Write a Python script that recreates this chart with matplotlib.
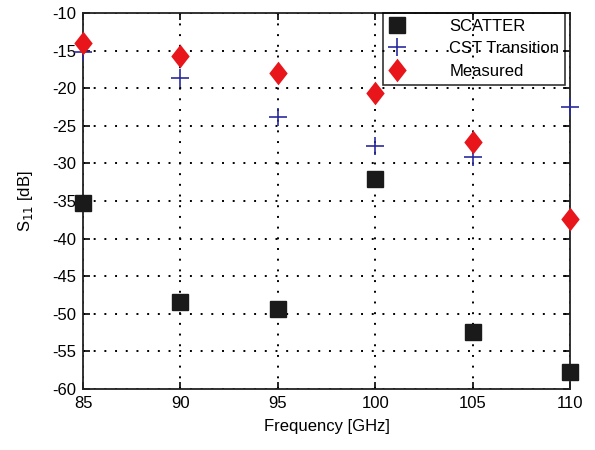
import matplotlib
matplotlib.use("Agg")
import matplotlib.pyplot as plt
from matplotlib.path import Path

plt.rcParams['font.family'] = ['Liberation Sans', 'DejaVu Sans']
plt.rcParams['axes.unicode_minus'] = False

# frequency points (GHz)
freq = [85, 90, 95, 100, 105, 110]
# S11 values in dB
s11_scatter = [-35.3, -48.4, -49.4, -32.1, -52.4, -57.7]
s11_cst = [-15.2, -18.7, -23.9, -27.7, -29.2, -22.5]
s11_measured = [-14.0, -15.7, -18.0, -20.7, -27.1, -37.4]

xticks = [85, 90, 95, 100, 105, 110]
yticks = [-60, -55, -50, -45, -40, -35, -30, -25, -20, -15, -10]

# tall diamond like the original figure
tall_diamond = Path([(0, 1), (0.78, 0), (0, -1), (-0.78, 0), (0, 1)],
                    [Path.MOVETO, Path.LINETO, Path.LINETO, Path.LINETO, Path.CLOSEPOLY])

fig = plt.figure(figsize=(5.95, 4.5), dpi=100)
ax = fig.add_axes([0.1395, 0.1356, 0.8185, 0.8356])

ax.plot(freq, s11_scatter, linestyle='none', marker='s', markersize=11.5,
        color='#1a1a1a', markeredgecolor='#1a1a1a', label='SCATTER', clip_on=False, zorder=3)
ax.plot(freq, s11_cst, linestyle='none', marker='+', markersize=13, markeredgewidth=1.2,
        color='#2b2b9e', label='CST Transition', clip_on=False, zorder=3)
ax.plot(freq, s11_measured, linestyle='none', marker=tall_diamond, markersize=17,
        color='#e8151b', markeredgewidth=0, label='Measured', clip_on=False, zorder=4)

ax.set_xlim(85, 110)
ax.set_ylim(-60, -10)
ax.set_xticks(xticks)
ax.set_yticks(yticks)
ax.tick_params(direction='in', top=True, right=True, labelsize=12, length=5, width=1.2, pad=5)
ax.grid(True, linestyle=(0, (1, 4.5)), color='black', linewidth=1.4)
for sp in ax.spines.values():
    sp.set_linewidth(1.3)
    sp.set_color('#222222')

ax.set_xlabel('Frequency [GHz]', fontsize=12, labelpad=6)
ax.set_ylabel('S$_{11}$ [dB]', fontsize=12, labelpad=12)

# legend box is transparent, grid shows through it
leg = ax.legend(loc='upper right', bbox_to_anchor=(0.9897, 1.0), fontsize=12,
                frameon=True, fancybox=False, edgecolor='black', facecolor='none',
                handlelength=1.0, handletextpad=2.6, borderpad=0.35, labelspacing=0.45,
                borderaxespad=0.0)
leg.get_frame().set_linewidth(1.2)

fig.savefig('out.png', dpi=100)
